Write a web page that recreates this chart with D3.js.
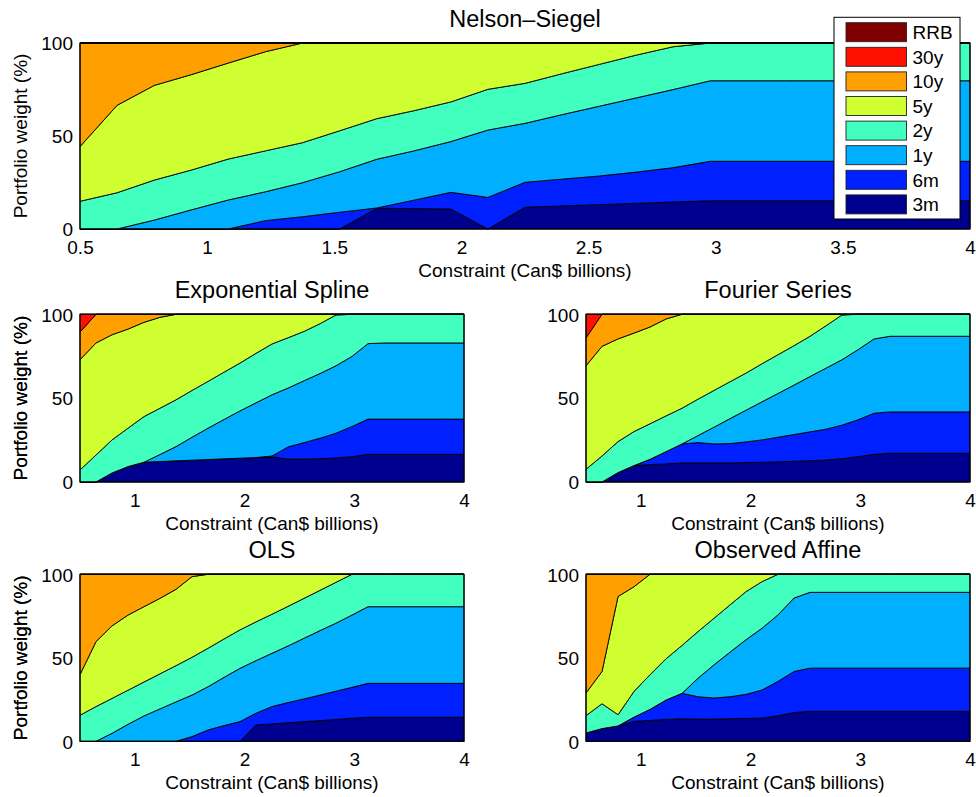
<!DOCTYPE html>
<html><head><meta charset="utf-8">
<script src="https://cdn.jsdelivr.net/npm/d3@7"></script>
<style>body{margin:0;background:#fff} svg{display:block;font-family:"Liberation Sans",Arial,Helvetica,sans-serif}</style>
</head><body><svg id="c" width="976" height="797"></svg>
<script>
// ---------- data ----------
const constraint = [0.5,0.646,0.792,0.938,1.083,1.229,1.375,1.521,1.667,1.813,1.958,2.104,2.25,2.396,2.542,2.688,2.833,2.979,3.125,3.271,3.417,3.563,3.708,3.854,4];
const maturities = ["3m","6m","1y","2y","5y","10y","30y","RRB"];
const colors = ["#00008f","#0020ff","#00afff","#40ffbf","#cfff30","#ff9f00","#ff1000","#800000"];
const topTicks = [0.5,1,1.5,2,2.5,3,3.5,4];
const lowerTicks = [1,2,3,4];
const yTicks = [0,50,100];

// Nelson-Siegel weights (%), by maturity
const ns3m  = [0,0,0,0,0,0,0,0,11.1,11,10.8,0,11.7,12.4,13.1,13.8,14.5,15.2,15.2,15.2,15.2,15.2,15.2,15.2,15.2];
const ns6m  = [0,0,0,0,0,4.5,6.6,9,0.2,4.5,8.9,17,13.4,14.4,15.4,16.8,18.5,21.2,21.2,21.2,21.2,21.2,21.2,21.2,21.2];
const ns1y  = [0,0,4.8,10.3,15.6,15.5,18.3,21.8,26.2,26.5,27.3,36.2,31.7,34.7,37.5,39.9,42,43.3,43.3,43.3,43.3,43.3,43.3,43.3,43.3];
const ns2y  = [14.9,19.5,21.5,21.4,22,22,21.5,22,21.8,21.6,21.3,21.9,21.5,22,22.5,23,23,20.3,20.3,20.3,20.3,20.3,20.3,20.3,20.3];
const ns5y  = [29.4,47,50.9,51.3,51.6,53.3,53.6,47.2,40.7,36.4,31.7,24.9,21.7,16.5,11.5,6.5,2,0,0,0,0,0,0,0,0];
const ns10y = [55.7,33.5,22.8,17,10.8,4.7,0,0,0,0,0,0,0,0,0,0,0,0,0,0,0,0,0,0,0];
const ns30y = [0,0,0,0,0,0,0,0,0,0,0,0,0,0,0,0,0,0,0,0,0,0,0,0,0];
const nsRRB = [0,0,0,0,0,0,0,0,0,0,0,0,0,0,0,0,0,0,0,0,0,0,0,0,0];

// Exponential Spline
const es3m  = [0,0,5.4,9.2,11.8,12.2,12.6,13,13.4,13.8,14.2,14.6,15,13.7,13.7,13.9,14.3,15.1,16.5,16.5,16.5,16.5,16.5,16.5,16.5];
const es6m  = [0,0,0,0,0,0,0,0,0,0,0,0,0.5,7.2,9.8,12.2,14.8,18,21,21,21,21,21,21,21];
const es1y  = [0,0,0,0,0,4.2,8.5,13.7,18.7,23.5,28.2,32.6,36.5,35.1,36.9,38.6,40.2,41.8,45,45.4,45.4,45.4,45.4,45.4,45.4];
const es2y  = [7.2,16.1,19.7,22.9,27.2,27.6,27.9,27.9,27.9,28.2,28.5,29.5,30.3,30,29.4,29.7,30.3,25.1,17.5,17.1,17.1,17.1,17.1,17.1,17.1];
const es5y  = [65.7,66.8,62.7,59.1,56.2,54.2,51,45.4,40,34.5,29.1,23.3,17.7,14,10.2,5.6,0.4,0,0,0,0,0,0,0,0];
const es10y = [16.5,17.1,12.2,8.8,4.8,1.8,0,0,0,0,0,0,0,0,0,0,0,0,0,0,0,0,0,0,0];
const es30y = [10.6,0,0,0,0,0,0,0,0,0,0,0,0,0,0,0,0,0,0,0,0,0,0,0,0];
const esRRB = [0,0,0,0,0,0,0,0,0,0,0,0,0,0,0,0,0,0,0,0,0,0,0,0,0];

// Fourier Series
const fs3m  = [0,0,5.6,9.8,10.4,10.8,11.4,11.4,11.4,11.4,11.6,11.8,12,12.4,12.7,13.1,13.9,15.1,16.5,17.1,17.1,17.1,17.1,17.1,17.1];
const fs6m  = [0,0,0,0,3.1,7.3,11.3,12.1,11.3,11.5,12.3,13.3,14.7,15.9,17.2,18.4,20,22,24.5,24.7,24.7,24.7,24.7,24.7,24.7];
const fs1y  = [0,0,0,0,0,0,0,4.2,10,14.9,18.9,22.7,26.1,29.5,33,36.4,39,41.8,44.3,45.1,45.1,45.1,45.1,45.1,45.1];
const fs2y  = [7.6,15.5,18.5,20.3,21.2,21.3,21.3,21.7,21.9,22,22.1,22.7,23.1,23.5,24,25.3,26.7,21.1,14.7,13.1,13.1,13.1,13.1,13.1,13.1];
const fs5y  = [61.7,65.4,61.2,58.7,57.7,57.8,56,50.6,45.4,40.2,35.1,29.5,24.1,18.7,13.1,6.8,0.4,0,0,0,0,0,0,0,0];
const fs10y = [16.6,19.1,14.7,11.2,7.6,2.8,0,0,0,0,0,0,0,0,0,0,0,0,0,0,0,0,0,0,0];
const fs30y = [14.1,0,0,0,0,0,0,0,0,0,0,0,0,0,0,0,0,0,0,0,0,0,0,0,0];
const fsRRB = [0,0,0,0,0,0,0,0,0,0,0,0,0,0,0,0,0,0,0,0,0,0,0,0,0];

// OLS
const ols3m  = [0,0,0,0,0,0,0,0,0,0,0,9.8,10.4,11.1,11.8,12.4,13.1,13.8,14.4,14.4,14.4,14.4,14.4,14.4,14.4];
const ols6m  = [0,0,0,0,0,0,0,2.8,6.8,9.4,11.8,7,10.4,12.1,13.6,15.3,16.9,18.5,20.3,20.3,20.3,20.3,20.3,20.3,20.3];
const ols1y  = [0,0,4.8,10.2,15.2,19.4,23.6,24.9,25.9,28.9,31.9,31.5,31.9,33.9,36.3,38.6,40.7,43.3,45.9,45.9,45.9,45.9,45.9,45.9,45.9];
const ols2y  = [15.6,20.8,20.9,20.4,20.3,21,21.7,22.6,23,23,23,23.2,23.4,23.7,23.9,24.1,24.5,24.4,19.4,19.4,19.4,19.4,19.4,19.4,19.4];
const ols5y  = [24.3,38.9,43.4,45,45.1,45.2,45.7,48.3,44.3,38.7,33.3,28.5,23.9,19.2,14.4,9.6,4.8,0,0,0,0,0,0,0,0];
const ols10y = [60.1,40.3,30.9,24.4,19.4,14.4,9,1.4,0,0,0,0,0,0,0,0,0,0,0,0,0,0,0,0,0];
const ols30y = [0,0,0,0,0,0,0,0,0,0,0,0,0,0,0,0,0,0,0,0,0,0,0,0,0];
const olsRRB = [0,0,0,0,0,0,0,0,0,0,0,0,0,0,0,0,0,0,0,0,0,0,0,0,0];

// Observed Affine
const oa3m  = [5,7.6,9.2,12,12.5,13.1,13.5,13.3,13.3,13.5,13.7,13.9,15.3,17.2,18,18,18,18,18,18,18,18,18,18,18];
const oa6m  = [0,0,0,2.5,6.6,11.6,15.2,13.4,12.6,13.2,14.4,16.8,20.6,24.6,25.8,25.8,25.8,25.8,25.8,25.8,25.8,25.8,25.8,25.8,25.8];
const oa1y  = [0,0,0,0,0,0,0,11.1,19.9,26.7,32.7,37,39.8,44,45.4,45.4,45.4,45.4,45.4,45.4,45.4,45.4,45.4,45.4,45.4];
const oa2y  = [10.3,14.9,6.7,15.4,20.7,24.7,28.7,27.9,27.9,28.3,28.8,27.9,24.3,14.2,10.8,10.8,10.8,10.8,10.8,10.8,10.8,10.8,10.8,10.8,10.8];
const oa5y  = [13.6,19.3,70.8,62.7,60.2,50.6,42.6,34.3,26.3,18.3,10.4,4.4,0,0,0,0,0,0,0,0,0,0,0,0,0];
const oa10y = [71.1,58.2,13.3,7.4,0,0,0,0,0,0,0,0,0,0,0,0,0,0,0,0,0,0,0,0,0];
const oa30y = [0,0,0,0,0,0,0,0,0,0,0,0,0,0,0,0,0,0,0,0,0,0,0,0,0];
const oaRRB = [0,0,0,0,0,0,0,0,0,0,0,0,0,0,0,0,0,0,0,0,0,0,0,0,0];

// ---------- layout ----------
const FONT = 19, TFONT = 23.5;
const panels = [
  {title:"Nelson\u2013Siegel", series:[ns3m,ns6m,ns1y,ns2y,ns5y,ns10y,ns30y,nsRRB], box:[80,970,43,229], xt:topTicks, fmt:d3.format(""), legend:true},
  {title:"Exponential Spline", series:[es3m,es6m,es1y,es2y,es5y,es10y,es30y,esRRB], box:[80,464,314.3,482], xt:lowerTicks, fmt:d3.format("")},
  {title:"Fourier Series", series:[fs3m,fs6m,fs1y,fs2y,fs5y,fs10y,fs30y,fsRRB], box:[586,970,314.3,482], xt:lowerTicks, fmt:d3.format("")},
  {title:"OLS", series:[ols3m,ols6m,ols1y,ols2y,ols5y,ols10y,ols30y,olsRRB], box:[80,464,574.3,741.3], xt:lowerTicks, fmt:d3.format("")},
  {title:"Observed Affine", series:[oa3m,oa6m,oa1y,oa2y,oa5y,oa10y,oa30y,oaRRB], box:[586,970,574.3,741.3], xt:lowerTicks, fmt:d3.format("")}
];

const svg = d3.select("#c");

panels.forEach(p => {
  const [L,R,T,B] = p.box;
  const x = d3.scaleLinear().domain([0.5,4]).range([L,R]);
  const y = d3.scaleLinear().domain([0,100]).range([B,T]);
  const rows = constraint.map((c,i) => {
    const r = {x:c};
    maturities.forEach((m,k) => r[m] = p.series[k][i]);
    return r;
  });
  const stacked = d3.stack().keys(maturities)(rows);
  const area = d3.area().x(d => x(d.data.x)).y0(d => y(d[0])).y1(d => y(d[1]));
  const g = svg.append("g");
  g.selectAll("path.a").data(stacked).join("path")
    .attr("class","a")
    .attr("d", area)
    .attr("fill", (d,k) => colors[k])
    .attr("stroke", "#000")
    .attr("stroke-width", 0.9)
    .attr("stroke-linejoin","round");
  // axes box
  g.append("rect").attr("x",L).attr("y",T).attr("width",R-L).attr("height",B-T)
    .attr("fill","none").attr("stroke","#000").attr("stroke-width",1.2);
  // x axis
  const xa = g.append("g").attr("transform",`translate(0,${B})`)
    .call(d3.axisBottom(x).tickValues(p.xt).tickFormat(p.fmt).tickSize(0).tickPadding(11.5));
  xa.select(".domain").remove();
  xa.selectAll("text").attr("font-size",FONT).attr("font-family","Liberation Sans, Arial, sans-serif").attr("fill","#000");
  // y axis
  const ya = g.append("g").attr("transform",`translate(${L},0)`)
    .call(d3.axisLeft(y).tickValues(yTicks).tickSize(0).tickPadding(7));
  ya.select(".domain").remove();
  ya.selectAll("text").attr("font-size",FONT).attr("font-family","Liberation Sans, Arial, sans-serif").attr("fill","#000").attr("dy","0.36em");
  // labels
  g.append("text").attr("x",(L+R)/2).attr("y",T-16.5).attr("text-anchor","middle")
    .attr("font-size",TFONT).text(p.title);
  g.append("text").attr("x",(L+R)/2).attr("y",B+48).attr("text-anchor","middle")
    .attr("font-size",FONT).text("Constraint (Can$ billions)");
  g.append("text").attr("transform",`translate(27,${(T+B)/2}) rotate(-90)`).attr("text-anchor","middle")
    .attr("font-size",FONT).text("Portfolio weight (%)");

  if (p.legend) {
    const lg = svg.append("g");
    lg.append("rect").attr("x",834).attr("y",17.3).attr("width",126).attr("height",201.7)
      .attr("fill","#fff").attr("stroke","#000").attr("stroke-width",1);
    const order = maturities.slice().reverse();
    order.forEach((m,j) => {
      const k = maturities.indexOf(m);
      const yy = 22.7 + j*24.6;
      lg.append("rect").attr("x",846).attr("y",yy).attr("width",60.5).attr("height",19)
        .attr("fill",colors[k]).attr("stroke","#222").attr("stroke-width",0.9);
      lg.append("text").attr("x",912.5).attr("y",yy+9.5).attr("dy","0.36em")
        .attr("font-size",FONT).text(m);
    });
  }
});
</script>
</body></html>
